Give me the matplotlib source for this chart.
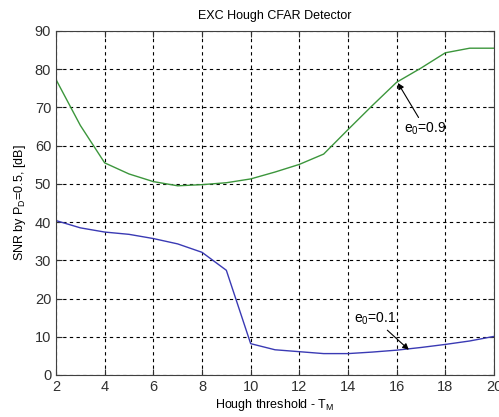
import matplotlib
matplotlib.use("Agg")
import matplotlib.pyplot as plt

plt.rcParams["font.family"] = ["Liberation Sans", "DejaVu Sans"]

# Hough threshold values
threshold = list(range(2, 21))

# SNR needed for P_D = 0.5, e0 = 0.9 (green) and e0 = 0.1 (blue)
snr_e09 = [77.3, 65.3, 55.5, 52.6, 50.6, 49.5, 49.8, 50.3, 51.3,
           53.1, 55.1, 57.8, 64.2, 70.5, 76.6, 80.3, 84.3, 85.5, 85.5]
snr_e01 = [40.4, 38.5, 37.4, 36.8, 35.7, 34.3, 32.1, 27.4, 8.2,
           6.6, 6.1, 5.6, 5.6, 6.0, 6.5, 7.2, 8.0, 8.9, 10.1]

fig = plt.figure(figsize=(4.99, 4.17), dpi=100)
ax = fig.add_axes([56 / 499, 42 / 417, 438 / 499, 344 / 417])

ax.plot(threshold, snr_e09, color="#3c963c", lw=1.0)
ax.plot(threshold, snr_e01, color="#3a3ab4", lw=1.0)

ax.set_xlim(2, 20)
ax.set_ylim(0, 90)
ax.set_xticks(range(2, 21, 2))
ax.set_yticks(range(0, 91, 10))
ax.grid(True, color="black", linestyle=(0, (3, 3)), linewidth=0.8)
ax.tick_params(direction="in", length=4, labelsize=10.5, top=True, right=True,
               colors="#303030")
for s in ax.spines.values():
    s.set_color("#404040")

ax.set_title("EXC Hough CFAR Detector", fontsize=9, pad=9)
ax.set_xlabel("Hough threshold - T$\\mathregular{_M}$", fontsize=9, labelpad=2)
ax.set_ylabel("SNR by P$\\mathregular{_D}$=0.5, [dB]", fontsize=9, labelpad=5)

ax.annotate("e$\\mathregular{_0}$=0.9", xy=(16.05, 76.4), xytext=(16.3, 63.5),
            fontsize=10,
            arrowprops=dict(arrowstyle="-|>", color="black", lw=0.8,
                            shrinkA=0, shrinkB=0, mutation_scale=9))
ax.annotate("e$\\mathregular{_0}$=0.1", xy=(16.5, 6.6), xytext=(14.25, 13.6),
            fontsize=10,
            arrowprops=dict(arrowstyle="-|>", color="black", lw=0.8,
                            shrinkA=0, shrinkB=0, mutation_scale=9))

fig.savefig("out.png", dpi=100)
